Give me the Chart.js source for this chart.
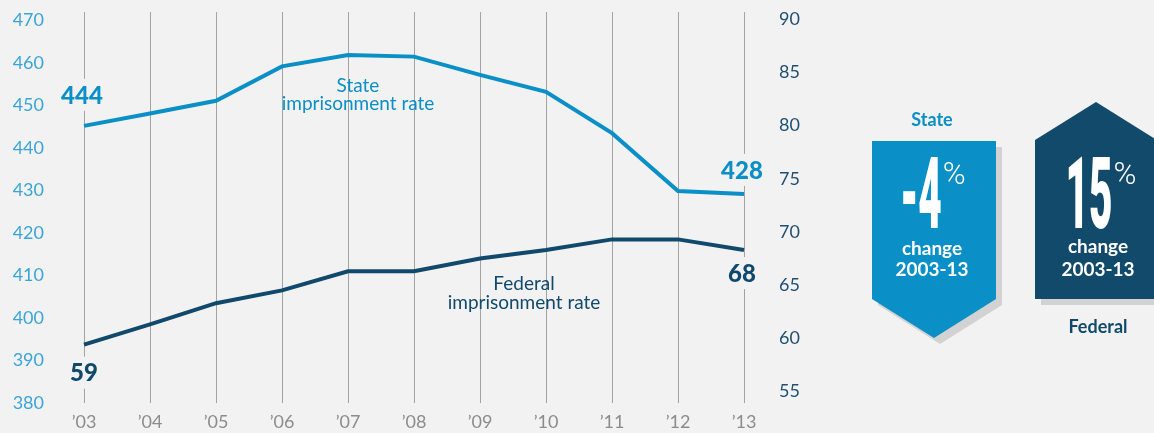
<!DOCTYPE html>
<html>
<head>
<meta charset="utf-8">
<script src="https://cdn.jsdelivr.net/npm/chart.js@4/dist/chart.umd.min.js"></script>
<style>
  html, body { margin: 0; padding: 0; background: #f2f2f2; }
  canvas { display: block; }
</style>
</head>
<body>
<canvas id="rates" width="1154" height="433"></canvas>
<script>
// values
const years = ['’03', '’04', '’05', '’06', '’07', '’08', '’09', '’10', '’11', '’12', '’13'];
const stateRate = [445.2, 448.1, 451.1, 459.2, 461.9, 461.5, 457.2, 453.2, 443.5, 429.9, 429.2];
const federalRate = [59.4, 61.3, 63.3, 64.5, 66.3, 66.3, 67.5, 68.3, 69.3, 69.3, 68.3];
const stateTicks = [380, 390, 400, 410, 420, 430, 440, 450, 460, 470];
const federalTicks = [55, 60, 65, 70, 75, 80, 85, 90];
const stateEnds = ['444', '428'];
const federalEnds = ['59', '68'];
const changes = ['-4', '15'];

const BG = '#f2f2f2';
const STATE = '#0a8fc7';
const FEDERAL = '#10496b';

Chart.defaults.font.family = 'Lato, "Open Sans", sans-serif';

// end labels sit on a background box so they cut the grid lines
function endLabel(ctx, text, x, y, color) {
  ctx.font = '900 24px Lato, sans-serif';
  const w = ctx.measureText(text).width;
  ctx.fillStyle = BG;
  ctx.fillRect(x - w / 2 - 2, y - 16, w + 4, 32);
  ctx.fillStyle = color;
  ctx.textAlign = 'center';
  ctx.textBaseline = 'middle';
  ctx.fillText(text, x, y + 1);
}

function badge(ctx, left, top, w, bottom, tipY, up, color) {
  const mid = left + w / 2;
  const shape = (dx, dy) => {
    ctx.beginPath();
    if (up) {
      ctx.moveTo(left + dx, top + dy);
      ctx.lineTo(mid + dx, tipY + dy);
      ctx.lineTo(left + w + dx, top + dy);
      ctx.lineTo(left + w + dx, bottom + dy);
      ctx.lineTo(left + dx, bottom + dy);
    } else {
      ctx.moveTo(left + dx, top + dy);
      ctx.lineTo(left + w + dx, top + dy);
      ctx.lineTo(left + w + dx, bottom + dy);
      ctx.lineTo(mid + dx, tipY + dy);
      ctx.lineTo(left + dx, bottom + dy);
    }
    ctx.closePath();
  };
  ctx.fillStyle = '#d2d2d2';
  shape(6, 6);
  ctx.fill();
  ctx.fillStyle = color;
  shape(0, 0);
  ctx.fill();
}

function bigNumber(ctx, text, cx, baseY) {
  ctx.save();
  ctx.font = '900 100px Roboto, sans-serif';
  // squeeze so that "15" comes out about 47px wide
  const sx = 47 / ctx.measureText('15').width;
  const w = ctx.measureText(text).width * sx;
  ctx.translate(cx - w / 2, baseY);
  ctx.scale(sx, 1);
  ctx.fillStyle = '#fff';
  ctx.textAlign = 'left';
  ctx.textBaseline = 'alphabetic';
  ctx.fillText(text, 0, 0);
  ctx.restore();
  ctx.font = '300 31px Roboto, sans-serif';
  ctx.fillStyle = '#fff';
  ctx.textAlign = 'left';
  ctx.textBaseline = 'alphabetic';
  ctx.fillText('%', cx + w / 2 + 1, baseY - 44);
}

const decor = {
  id: 'decor',
  beforeDraw(chart) {
    const ctx = chart.ctx;
    ctx.save();
    ctx.fillStyle = BG;
    ctx.fillRect(0, 0, chart.width, chart.height);
    ctx.restore();
  },
  afterDatasetsDraw(chart) {
    const ctx = chart.ctx;
    const x = chart.scales.x, yL = chart.scales.yL, yR = chart.scales.yR;
    const last = years.length - 1;
    ctx.save();
    endLabel(ctx, stateEnds[0], x.getPixelForValue(0) - 2, yL.getPixelForValue(stateRate[0]) - 31, STATE);
    endLabel(ctx, stateEnds[1], x.getPixelForValue(last) - 2, yL.getPixelForValue(stateRate[last]) - 24, STATE);
    endLabel(ctx, federalEnds[0], x.getPixelForValue(0), yR.getPixelForValue(federalRate[0]) + 28, FEDERAL);
    endLabel(ctx, federalEnds[1], x.getPixelForValue(last) - 2, yR.getPixelForValue(federalRate[last]) + 23, FEDERAL);

    ctx.font = '19px Lato, sans-serif';
    ctx.textAlign = 'center';
    ctx.textBaseline = 'middle';
    ctx.fillStyle = STATE;
    const sx = x.getPixelForValue(4) + 10;
    ctx.fillText('State', sx, 86);
    ctx.fillText('imprisonment rate', sx, 104);
    ctx.fillStyle = FEDERAL;
    const fx = (x.getPixelForValue(6) + x.getPixelForValue(7)) / 2 + 11;
    ctx.fillText('Federal', fx, 284);
    ctx.fillText('imprisonment rate', fx, 303);
    ctx.restore();
  },
  afterDraw(chart) {
    const ctx = chart.ctx;
    ctx.save();
    // state badge, pointing down
    badge(ctx, 872, 141, 124, 299, 338, false, '#0a8fc7');
    // federal badge, pointing up
    badge(ctx, 1035, 140, 122, 299, 102, true, '#124a6b');

    ctx.textAlign = 'center';
    ctx.textBaseline = 'middle';
    ctx.font = 'bold 18px Lato, sans-serif';
    ctx.fillStyle = STATE;
    ctx.fillText('State', 932, 120);
    ctx.fillStyle = FEDERAL;
    ctx.fillText('Federal', 1098, 327);

    bigNumber(ctx, changes[0], 921, 228);
    bigNumber(ctx, changes[1], 1089, 228);

    ctx.textAlign = 'center';
    ctx.textBaseline = 'middle';
    ctx.font = 'bold 19px Lato, sans-serif';
    ctx.fillStyle = '#fff';
    ctx.fillText('change', 932, 249);
    ctx.fillText('2003-13', 932, 270);
    ctx.fillText('change', 1098, 247);
    ctx.fillText('2003-13', 1098, 270);
    ctx.restore();
  }
};

const noPad = s => { s.paddingTop = 0; s.paddingBottom = 0; s.paddingLeft = 0; s.paddingRight = 0; };

new Chart(document.getElementById('rates'), {
  type: 'line',
  plugins: [decor],
  data: {
    labels: years,
    datasets: [
      {
        label: 'State imprisonment rate',
        data: stateRate,
        yAxisID: 'yL',
        borderColor: STATE,
        borderWidth: 4,
        pointRadius: 0,
        tension: 0
      },
      {
        label: 'Federal imprisonment rate',
        data: federalRate,
        yAxisID: 'yR',
        borderColor: FEDERAL,
        borderWidth: 4,
        pointRadius: 0,
        tension: 0
      }
    ]
  },
  options: {
    responsive: false,
    animation: false,
    layout: { padding: { top: 12, right: 340, left: 0, bottom: 0 } },
    plugins: { legend: { display: false }, tooltip: { enabled: false } },
    scales: {
      x: {
        offset: false,
        grid: { color: '#a3a3a3', lineWidth: 1, drawTicks: false },
        border: { display: false },
        ticks: { color: '#8c8c8c', font: { size: 18 }, padding: 8, maxRotation: 0 },
        afterFit: s => { s.height = 30; noPad(s); }
      },
      yL: {
        position: 'left',
        min: 380,
        max: 472,
        afterBuildTicks: s => { s.ticks = stateTicks.map(v => ({ value: v })); },
        grid: { display: false, drawTicks: false },
        border: { display: false },
        ticks: { color: '#3aa5d8', font: { size: 18 }, padding: 40 },
        afterFit: s => { s.width = 84; noPad(s); }
      },
      yR: {
        position: 'right',
        min: 53.91,
        max: 90.69,
        afterBuildTicks: s => { s.ticks = federalTicks.map(v => ({ value: v })); },
        grid: { display: false, drawTicks: false },
        border: { display: false },
        ticks: { color: '#1f4f72', font: { size: 18 }, padding: 35 },
        afterFit: s => { s.width = 70; noPad(s); }
      }
    }
  }
});
</script>
</body>
</html>
